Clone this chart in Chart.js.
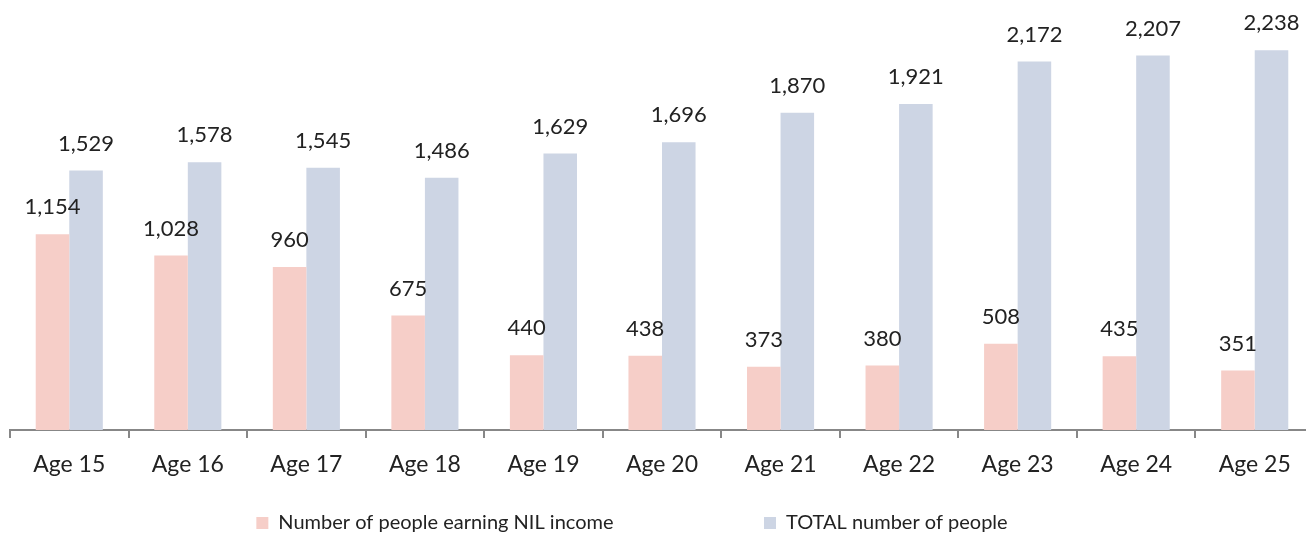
<!DOCTYPE html>
<html>
<head>
<meta charset="utf-8">
<script src="https://cdn.jsdelivr.net/npm/chart.js@4"></script>
<style>
  html, body { margin: 0; padding: 0; background: #fff; overflow: hidden; }
  #wrap { width: 1320px; height: 533px; position: relative; }
</style>
</head>
<body>
<div id="wrap"><canvas id="chart"></canvas></div>
<script>
const ages = ["Age 15", "Age 16", "Age 17", "Age 18", "Age 19", "Age 20", "Age 21", "Age 22", "Age 23", "Age 24", "Age 25"];
const nilIncome = [1154, 1028, 960, 675, 440, 438, 373, 380, 508, 435, 351];
const totalPeople = [1529, 1578, 1545, 1486, 1629, 1696, 1870, 1921, 2172, 2207, 2238];
const seriesNames = ["Number of people earning NIL income", "TOTAL number of people"];

const textColor = "#222";
const axisColor = "#878787";

// value labels above each bar
const barLabels = {
  id: "barLabels",
  afterDatasetsDraw(chart) {
    const ctx = chart.ctx;
    ctx.save();
    ctx.font = "22px Lato";
    ctx.fillStyle = textColor;
    ctx.textAlign = "center";
    ctx.textBaseline = "middle";
    chart.data.datasets.forEach((ds, i) => {
      chart.getDatasetMeta(i).data.forEach((bar, j) => {
        ctx.fillText(ds.data[j].toLocaleString("en-US"), bar.x, bar.y - 27);
      });
    });
    ctx.restore();
  }
};

// nudge the legend a bit left, like the original
const legendShift = {
  id: "legendShift",
  afterLayout(chart) {
    chart.legend.left -= 30;
    chart.legend.right -= 30;
  }
};

new Chart(document.getElementById("chart"), {
  type: "bar",
  data: {
    labels: ages,
    datasets: [
      { label: seriesNames[0], data: nilIncome, backgroundColor: "#F6CEC8" },
      { label: seriesNames[1], data: totalPeople, backgroundColor: "#CDD5E4" }
    ]
  },
  options: {
    responsive: true,
    maintainAspectRatio: false,
    animation: false,
    events: [],
    layout: { padding: { left: 10, right: 6, top: 0, bottom: -10 } },
    datasets: { bar: { categoryPercentage: 0.566, barPercentage: 1 } },
    scales: {
      x: {
        grid: { offset: true, drawOnChartArea: false, drawTicks: true, tickLength: 8, color: axisColor, lineWidth: 2 },
        border: { display: true, color: axisColor, width: 2 },
        ticks: { color: textColor, font: { family: "Lato", size: 23 }, padding: 13 },
        afterFit(scale) { scale.height = 81; }
      },
      y: { display: false, min: 0, max: 2534 }
    },
    plugins: {
      tooltip: { enabled: false },
      legend: {
        position: "bottom",
        labels: {
          color: textColor,
          font: { family: "Lato", size: 20 },
          boxWidth: 12,
          boxHeight: 12,
          padding: 2,
          generateLabels(chart) {
            const items = Chart.defaults.plugins.legend.labels.generateLabels(chart);
            items[0].text = items[0].text + " ".repeat(29);
            items.forEach(it => { it.lineWidth = 0; });
            return items;
          }
        }
      }
    }
  },
  plugins: [barLabels, legendShift]
});
</script>
</body>
</html>
